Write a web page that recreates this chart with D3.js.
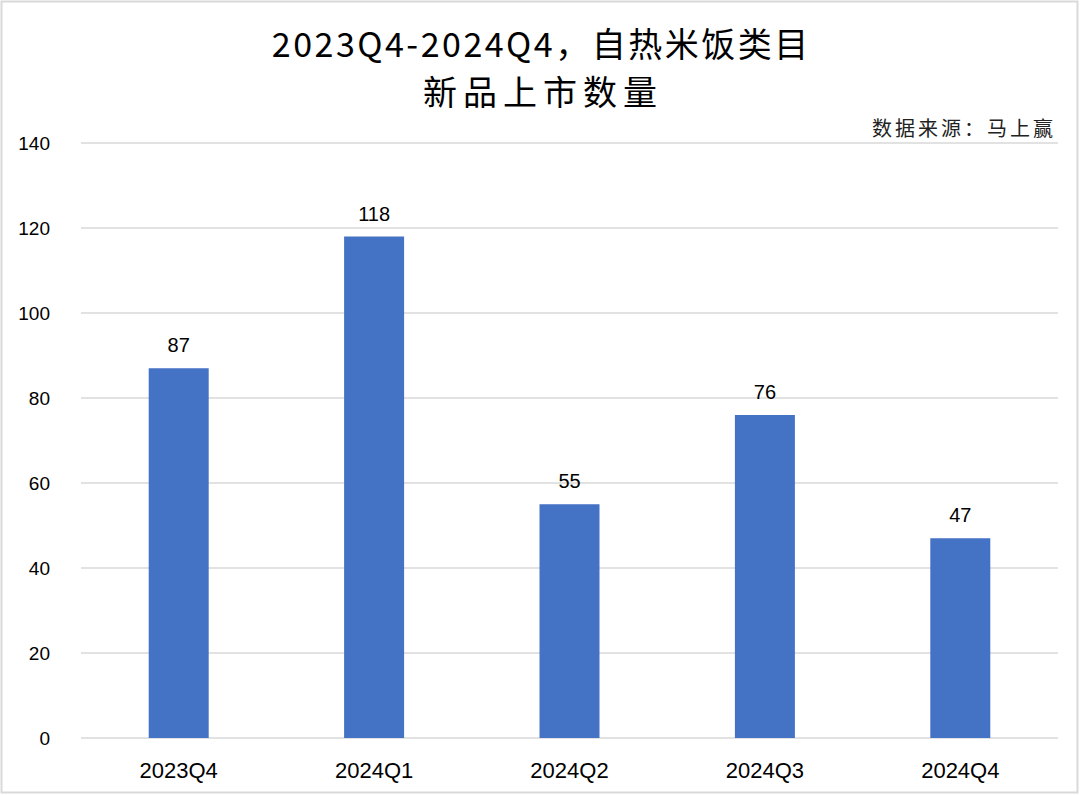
<!DOCTYPE html>
<html><head><meta charset="utf-8">
<script src="https://cdn.jsdelivr.net/npm/d3@7/dist/d3.min.js"></script>
<style>body{margin:0;background:#fff}svg{display:block}</style>
</head><body>
<svg id="c" width="1080" height="795"></svg>
<script>
const categories = ["2023Q4","2024Q1","2024Q2","2024Q3","2024Q4"];
const values = [87,118,55,76,47];
const yTicks = [0,20,40,60,80,100,120,140];
const titleLines = ["2023Q4-2024Q4，自热米饭类目","新品上市数量"];
const sourceText = "数据来源：马上赢";

const svg = d3.select("#c");
const W=1080,H=795;
const m={left:81,right:1058,top:143,bottom:738};
svg.append("rect").attr("x",1.5).attr("y",1.5).attr("width",W-4).attr("height",H-4)
  .attr("fill","#fff").attr("stroke","#d9d9d9").attr("stroke-width",2);

const x=d3.scaleBand().domain(categories).range([m.left,m.right]).paddingInner(0.693).paddingOuter(0.3465);
const y=d3.scaleLinear().domain([0,140]).range([m.bottom,m.top]);

const cjk='"Noto Sans CJK SC","Noto Sans",sans-serif';
const lat='"Liberation Sans",Arial,sans-serif';

svg.append("g").selectAll("line").data(yTicks).join("line")
  .attr("x1",m.left).attr("x2",m.right).attr("y1",d=>y(d)).attr("y2",d=>y(d))
  .attr("stroke","#d9d9d9").attr("stroke-width",1.3);

const ya=svg.append("g").attr("transform",`translate(${m.left-31},0)`)
  .call(d3.axisLeft(y).tickValues(yTicks).tickSize(0).tickPadding(0));
ya.select(".domain").remove();
ya.selectAll("text").attr("font-family",lat).attr("font-size",19).attr("fill","#000");

svg.append("g").selectAll("rect").data(values).join("rect")
  .attr("x",(d,i)=>x(categories[i])).attr("width",x.bandwidth())
  .attr("y",d=>y(d)).attr("height",d=>y(0)-y(d)).attr("fill","#4472C4");

svg.append("g").selectAll("text").data(values).join("text")
  .attr("x",(d,i)=>x(categories[i])+x.bandwidth()/2).attr("y",d=>y(d)-16)
  .attr("text-anchor","middle").attr("font-family",lat).attr("font-size",20).attr("fill","#000")
  .text(d=>d);

const xa=svg.append("g").attr("transform",`translate(0,${m.bottom})`)
  .call(d3.axisBottom(x).tickSize(0).tickPadding(24));
xa.select(".domain").remove();
xa.selectAll("text").attr("font-family",lat).attr("font-size",22).attr("fill","#000");

const ls=[2.5,6];
svg.append("g").selectAll("text").data(titleLines).join("text")
  .attr("x",(d,i)=>540+ls[i]/2).attr("y",(d,i)=>57+i*48).attr("text-anchor","middle")
  .attr("letter-spacing",(d,i)=>ls[i])
  .attr("font-family",cjk).attr("font-size",34).attr("fill","#000").text(d=>d);

svg.append("text").attr("x",1056).attr("y",136).attr("text-anchor","end")
  .attr("letter-spacing",3)
  .attr("font-family",cjk).attr("font-size",20).attr("fill","#222").text(sourceText);
</script>
</body></html>
